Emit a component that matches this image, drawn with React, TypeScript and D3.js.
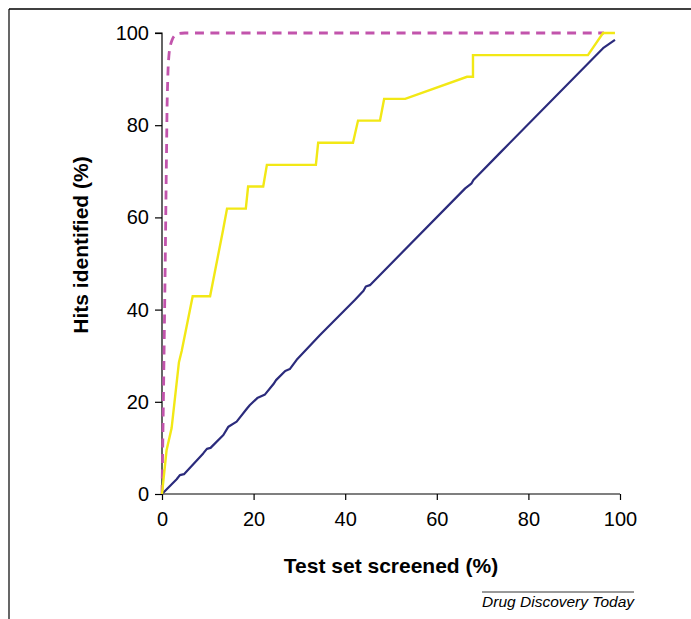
import React, { useEffect, useRef } from "react";
import * as d3 from "d3";

const xTicks = [0, 20, 40, 60, 80, 100];
const yTicks = [0, 20, 40, 60, 80, 100];

// Ideal (dashed magenta)
const idealX = [0, 0.3, 0.7, 1.0, 1.2, 1.5, 2.2, 3.3, 5, 96.5];
const idealY = [0, 20, 50, 75, 88, 95, 98.5, 99.8, 100, 100];

// Model (yellow)
const modelX = [0, 1.0, 2.1, 3.7, 4.3, 6.7, 10.5, 13.3, 14.2, 18.3, 18.8, 22.1, 22.9, 33.6, 34.1, 41.7, 42.8, 47.6, 48.5, 53.1, 66.6, 67.9, 67.9, 93.0, 96.3, 98.9];
const modelY = [0, 9.5, 14.3, 28.6, 31.0, 42.9, 42.9, 57.1, 61.9, 61.9, 66.7, 66.7, 71.4, 71.4, 76.2, 76.2, 81.0, 81.0, 85.7, 85.7, 90.5, 90.5, 95.2, 95.2, 100, 100];

// Random (navy)
const randomX = [0, 3.2, 3.9, 4.8, 9.0, 9.8, 10.6, 13.4, 14.5, 16.3, 18.6, 19.2, 20.8, 22.5, 24.3, 24.9, 26.9, 27.9, 29.4, 34.5, 42.1, 44.0, 44.5, 45.4, 66.2, 67.6, 68.0, 73.8, 96.3, 98.9];
const randomY = [0, 3.2, 4.1, 4.3, 8.8, 9.8, 10.0, 12.8, 14.6, 15.7, 18.6, 19.3, 20.8, 21.6, 23.8, 24.7, 26.7, 27.1, 29.1, 34.5, 42.1, 44.1, 45.0, 45.3, 66.3, 67.4, 68.1, 74.0, 96.7, 98.5];

const FONT = "'Liberation Sans', Arial, Helvetica, sans-serif";

export default function App() {
  const ref = useRef<SVGSVGElement>(null);

  useEffect(() => {
    const svg = d3.select(ref.current);
    svg.selectAll("*").remove();

    const x = d3.scaleLinear().domain([0, 100]).range([162, 620]);
    const y = d3.scaleLinear().domain([0, 100]).range([494, 33]);

    // frame
    svg.append("line").attr("x1", 9).attr("x2", 691).attr("y1", 9).attr("y2", 9)
      .attr("stroke", "#000").attr("stroke-width", 1.6);
    svg.append("line").attr("x1", 9).attr("x2", 9).attr("y1", 9).attr("y2", 619)
      .attr("stroke", "#000").attr("stroke-width", 1.2);

    const line = d3.line<[number, number]>().x(d => x(d[0])).y(d => y(d[1]));

    const ideal = idealX.map((v, i) => [v, idealY[i]] as [number, number]);
    const model = modelX.map((v, i) => [v, modelY[i]] as [number, number]);
    const random = randomX.map((v, i) => [v, randomY[i]] as [number, number]);

    const idealLine = d3.line<[number, number]>().x(d => x(d[0])).y(d => y(d[1])).curve(d3.curveMonotoneY);

    // axes
    const yAxis = svg.append("g").attr("transform", `translate(${x(0)},0)`)
      .call(d3.axisLeft(y).tickValues(yTicks).tickSize(7).tickPadding(6));
    const xAxis = svg.append("g").attr("transform", `translate(0,${y(0)})`)
      .call(d3.axisBottom(x).tickValues(xTicks).tickSize(6).tickPadding(12));
    [yAxis, xAxis].forEach(g => {
      g.select(".domain").attr("stroke", "#000").attr("stroke-width", 1.2);
      g.selectAll(".tick line").attr("stroke", "#000").attr("stroke-width", 1.2);
      g.selectAll(".tick text").attr("font-family", FONT).attr("font-size", 20).attr("fill", "#000");
    });
    yAxis.select(".domain").attr("d", `M-7,${y(100)}H0V${y(0)}`);
    xAxis.select(".domain").attr("d", `M${x(0)},0H${x(100)}`);

    svg.append("path").datum(ideal).attr("d", idealLine)
      .attr("fill", "none").attr("stroke", "#c254ac").attr("stroke-width", 2.8)
      .attr("stroke-dasharray", "9,6.5");

    svg.append("path").datum(random).attr("d", line)
      .attr("fill", "none").attr("stroke", "#2b2b7c").attr("stroke-width", 2.2)
      .attr("stroke-linejoin", "round");

    svg.append("path").datum(model).attr("d", line)
      .attr("fill", "none").attr("stroke", "#f2e815").attr("stroke-width", 2.4)
      .attr("stroke-linejoin", "miter");

    // titles
    svg.append("text").attr("x", (x(0) + x(100)) / 2).attr("y", 573)
      .attr("text-anchor", "middle").attr("font-family", FONT).attr("font-weight", "bold")
      .attr("font-size", 21).text("Test set screened (%)");
    svg.append("text").attr("transform", `translate(88,245) rotate(-90)`)
      .attr("text-anchor", "middle").attr("font-family", FONT).attr("font-weight", "bold")
      .attr("font-size", 21).text("Hits identified (%)");

    // credit
    svg.append("line").attr("x1", 482).attr("x2", 634).attr("y1", 592).attr("y2", 592)
      .attr("stroke", "#000").attr("stroke-width", 0.8);
    svg.append("text").attr("x", 634).attr("y", 607).attr("text-anchor", "end")
      .attr("font-family", FONT).attr("font-style", "italic").attr("font-size", 15.5)
      .text("Drug Discovery Today");
  }, []);

  return (
    <svg ref={ref} width={691} height={619}
      style={{ position: "absolute", left: 0, top: 0, background: "#fff" }} />
  );
}
